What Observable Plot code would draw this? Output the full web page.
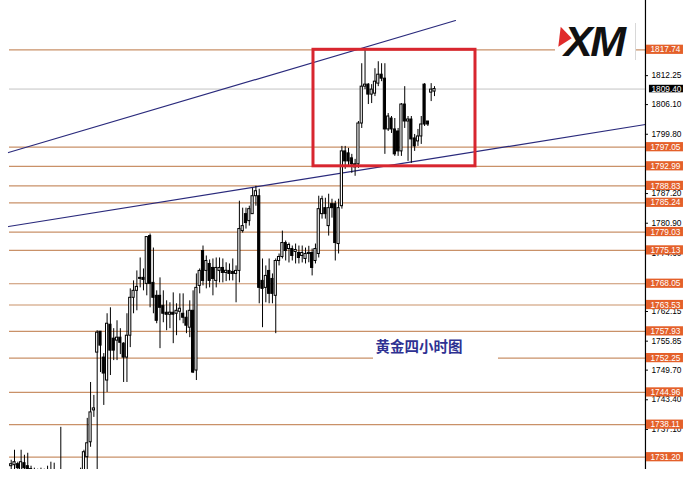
<!DOCTYPE html>
<html><head><meta charset="utf-8">
<script src="https://cdn.jsdelivr.net/npm/d3@7"></script>
<script src="https://cdn.jsdelivr.net/npm/@observablehq/plot@0.6"></script>
<style>
body{margin:0;background:#fff;}
#wrap{position:relative;width:700px;height:487px;overflow:hidden;background:#fff;}
#logo{position:absolute;left:548px;top:10px;}
</style></head><body>
<div id="wrap"><div id="chart"></div>
<svg id="logo" width="95" height="60" viewBox="0 0 95 60">
  <rect x="7" y="10" width="80" height="42" fill="#fff"/>
  <line x1="87.5" y1="13" x2="87.5" y2="50" stroke="#d8d8d8"/>
  <text x="16" y="46" font-family="Liberation Sans, Arial, sans-serif" font-weight="bold" font-style="italic" font-size="43" letter-spacing="-2.5" fill="#111">XM</text>
  <polygon points="12.7,16.7 23.7,28.3 10.3,36.7" fill="#e02a2a"/>
</svg>
</div>
<script>
// OHLC of the gold 4-hour candles, oldest first
const open = [
1729.29,1729.51,1729.72,1728.45,1729.93,1729.29,1728.66,1728.02,1727.60,
1727.60,1726.76,
1726.76,1727.60,1727.18,1727.60,
1726.33,1726.76,1725.27,1724.22,1725.06,1725.91,1727.18,1728.02,1731.20,1734.37,1741.14,1753.42,
1757.86,1752.36,1747.49,1759.34,1756.38,1755.96,
1756.59,
1755.32,1752.36,1757.01,1765.06,1766.54,1769.07,1769.29,1768.02,1778.17,1768.23,1765.48,1765.48,1763.36,1761.88,
1761.46,
1761.88,1761.67,1762.09,1761.67,1760.82,1758.71,1762.30,1749.61,1767.59,1775.00,1770.77,1772.25,1771.40,1768.65,1770.77,1771.40,
1770.34,
1770.77,1770.56,1770.13,1770.77,1779.23,1782.83,1781.35,1782.83,1786.64,1786.64,1768.65,1767.17,1770.77,1769.07,1765.48,1772.88,1773.73,1776.69,1775.42,1775.42,1774.79,1774.58,1773.94,1773.31,
1774.37,
1774.58,1772.88,1774.37,1782.83,1784.10,1780.29,1784.95,1784.95,1776.48,1784.52,1796.16,1795.74,1794.68,1793.41,1793.41,1802.08,1809.91,1810.34,1808.22,
1808.43,1810.55,1812.45,1811.61,1800.82,1803.14,1800.82,1800.39,1796.16,1806.11,1802.51,1802.93,1798.91,
1798.28,1799.33,1810.34,1802.51,1808.64,1808.86];
const high = [
1730.56,1732.68,1730.14,1732.68,1731.62,1732.04,1729.29,1728.87,1728.66,
1728.87,1728.66,
1729.29,1730.14,1729.93,1728.45,
1737.55,1728.02,1727.60,1726.76,1727.39,1728.45,1728.87,1732.68,1739.45,1747.07,1744.33,1758.07,
1757.86,1753.21,1761.67,1762.94,1758.50,1760.18,
1758.50,
1755.53,1761.67,1766.96,1768.65,1770.77,1773.52,1771.19,1777.96,1778.60,1775.63,1766.54,1769.29,1766.54,1764.42,
1764.00,
1766.11,1763.79,1765.90,1765.90,1762.30,1764.42,1766.54,1770.13,1771.19,1776.06,1773.94,1773.10,1773.31,1773.52,1773.52,1773.31,
1772.50,
1772.25,1773.31,1771.83,1785.58,1784.10,1784.10,1784.52,1788.33,1788.75,1788.12,1773.31,1771.83,1773.31,1770.13,1773.31,1774.37,1779.23,1777.12,1776.69,1776.06,1776.48,1776.06,1776.06,1775.63,
1776.00,
1775.42,1776.48,1786.64,1786.64,1786.21,1787.06,1786.00,1785.58,1786.00,1797.22,1797.22,1796.80,1795.53,1794.47,1802.51,1814.78,1817.74,1810.55,1810.34,
1813.72,1815.20,1814.78,1814.78,1804.20,1803.57,1803.14,1801.03,1806.32,1809.91,1803.57,1803.57,1799.76,
1800.82,1803.57,1810.55,1802.51,1810.55,1809.91];
const low = [
1727.39,1727.39,1727.39,1727.39,1727.39,1727.39,1726.76,1726.33,1725.27,
1725.06,1724.64,
1724.64,1725.06,1725.06,1724.22,
1723.16,1723.16,1722.10,1722.10,1723.16,1724.22,1725.27,1726.76,1728.45,1733.31,1739.66,1727.39,
1749.18,1742.20,1744.95,1748.55,1751.72,1751.72,
1753.00,
1747.07,1747.07,1754.48,1761.67,1762.30,1767.17,1766.54,1765.48,1762.94,1761.67,1759.55,1754.26,1759.76,1758.07,
1758.50,
1755.32,1757.01,1760.18,1759.55,1757.44,1756.59,1748.97,1747.49,1765.90,1767.59,1766.96,1767.17,1765.48,1767.17,1768.23,1768.23,
1768.50,
1768.65,1768.65,1764.00,1768.23,1778.81,1779.66,1780.29,1782.83,1784.52,1763.79,1758.71,1764.00,1763.79,1763.79,1757.44,1771.83,1773.31,1772.88,1772.46,1772.88,1772.25,1772.25,1772.46,1772.25,
1772.50,
1769.71,1772.25,1773.52,1781.77,1781.77,1778.17,1781.98,1772.88,1774.37,1783.89,1792.35,1792.99,1791.50,1790.87,1792.56,1801.03,1809.28,1806.11,1806.32,
1807.80,1809.91,1810.97,1795.53,1800.39,1799.97,1795.10,1795.10,1795.10,1801.03,1794.04,1793.62,1796.16,
1797.22,1797.64,1801.45,1801.45,1806.74,1807.80];
const close = [
1729.72,1730.14,1728.87,1730.14,1728.87,1728.66,1728.02,1727.18,1726.76,
1726.76,1727.18,
1727.60,1726.76,1728.02,1726.33,
1727.18,1725.27,1724.22,1725.27,1726.33,1727.39,1728.02,1732.26,1734.16,1740.72,1741.57,1757.65,
1754.90,1748.97,1759.55,1753.84,1753.84,1756.59,
1755.50,
1752.36,1757.01,1765.06,1766.54,1767.38,1769.29,1768.86,1777.96,1768.02,1765.06,1760.18,1762.94,1761.67,1761.46,
1761.90,
1761.46,1762.30,1762.73,1760.82,1759.13,1762.30,1749.18,1767.17,1770.77,1768.65,1772.88,1768.65,1769.07,1771.40,1771.40,1770.34,
1770.80,
1770.13,1770.13,1770.77,1779.66,1780.29,1780.93,1783.89,1786.64,1787.70,1767.17,1766.96,1769.71,1765.90,1765.90,1772.88,1773.73,1776.69,1775.00,1776.27,1773.94,1775.21,1773.52,1774.58,1774.37,
1774.60,
1771.40,1775.42,1783.89,1786.00,1782.83,1784.10,1784.10,1776.69,1784.10,1796.16,1794.04,1794.04,1793.41,1792.77,1802.08,1809.91,1810.34,1808.22,1809.28,
1810.97,1812.45,1811.61,1800.82,1803.57,1800.82,1795.53,1796.16,1806.11,1802.51,1802.93,1798.70,1797.22,
1799.33,1801.87,1801.87,1801.87,1809.28,1809.40];

// horizontal support / resistance levels (orange) and the last price
const levels = [1817.74,1797.05,1792.99,1788.83,1785.24,1779.03,1775.13,1768.05,1763.53,1757.93,1752.25,1744.96,1738.11,1731.20];
const lastPrice = 1809.40;
// price-axis tick labels
const tickValues = [1812.25,1806.10,1799.80,1787.20,1780.90,1774.60,1762.15,1755.85,1749.70,1743.40,1737.10];
// trend lines (bar number, price)
const trendUpper = [{bar:0.184, price:1795.92},{bar:135.35, price:1823.96}];
const trendLower = [{bar:0.184, price:1780.20},{bar:192.80, price:1801.87}];
// highlighted box
const boxBars = [92.41, 141.40];
const boxPrices = [1792.99, 1817.74];
// caption
const caption = "黄金四小时图";
const captionBar = 111.17, captionPrice = 1754.61;
const captionBoxBars = [110.56, 148.35], captionBoxPrices = [1751.74, 1756.84];

const axisBar = 192.80, lineStartBar = 0.486;
const xDomain = [-2.236, 209.44];
const yDomain = [1728.59, 1828.21];

const candles = open.map((o, k) => ({bar: k + 1, o, h: high[k], l: low[k], c: close[k]}));

const levelColor = "#c99168";
const labelColor = "#e4602a";
const trendColor = "#2a2a7c";
const boxColor = "#d8262f";
const font = "Liberation Sans, Arial, sans-serif";

const chart = Plot.plot({
  width: 700, height: 487,
  marginTop: 0, marginBottom: 18, marginLeft: 0, marginRight: 0,
  x: {domain: xDomain, axis: null},
  y: {domain: yDomain, axis: null},
  style: {background: "#fff", fontFamily: font},
  marks: [
    Plot.ruleY(levels, {x1: lineStartBar, x2: axisBar, stroke: levelColor, strokeWidth: 1.2}),
    Plot.ruleY([lastPrice], {x1: lineStartBar, x2: axisBar, stroke: "#c4c4c4", strokeWidth: 1}),
    Plot.line(trendUpper, {x: "bar", y: "price", stroke: trendColor, strokeWidth: 1.2}),
    Plot.line(trendLower, {x: "bar", y: "price", stroke: trendColor, strokeWidth: 1.2}),
    Plot.ruleX(candles, {x: "bar", y1: "l", y2: "h", stroke: "#000", strokeWidth: 1, clip: true}),
    Plot.rect(candles, {x1: d => d.bar - 0.33, x2: d => d.bar + 0.33, y1: "o", y2: "c",
      fill: d => d.c >= d.o ? "#fff" : "#000", stroke: "#000", strokeWidth: 1, clip: true}),
    Plot.rect([0], {x1: boxBars[0], x2: boxBars[1], y1: boxPrices[0], y2: boxPrices[1], fill: "none", stroke: boxColor, strokeWidth: 3}),
    Plot.rect([0], {x1: captionBoxBars[0], x2: captionBoxBars[1], y1: captionBoxPrices[0], y2: captionBoxPrices[1], fill: "#fff"}),
    Plot.text([caption], {x: captionBar, y: captionPrice, text: d => d, textAnchor: "start", fill: "#2e3192",
      fontSize: 14.5, fontWeight: "bold", fontFamily: "Noto Sans CJK SC, sans-serif"}),
    Plot.ruleX([axisBar], {y1: yDomain[0], y2: yDomain[1], stroke: "#000", strokeWidth: 1.2}),
    Plot.ruleY(tickValues, {x1: axisBar, x2: axisBar + 0.91, stroke: "#000"}),
    Plot.text(tickValues, {x: 194.62, y: d => d, text: d => d.toFixed(2), textAnchor: "start", fill: "#000", fontSize: 8.3}),
    Plot.rect(levels, {x1: 193.10, x2: 204.29, y1: d => d - 0.98, y2: d => d + 0.98, fill: labelColor}),
    Plot.text(levels, {x: 194.31, y: d => d, text: d => d.toFixed(2), textAnchor: "start", fill: "#fff", fontSize: 8.3}),
    Plot.rect([lastPrice], {x1: 194.0, x2: 204.29, y1: d => d - 0.8, y2: d => d + 0.8, fill: "#000"}),
    Plot.text([lastPrice], {x: 194.62, y: d => d, text: d => d.toFixed(2), textAnchor: "start", fill: "#fff", fontSize: 8.3})
  ]
});
document.getElementById("chart").appendChild(chart);
</script>
</body></html>
